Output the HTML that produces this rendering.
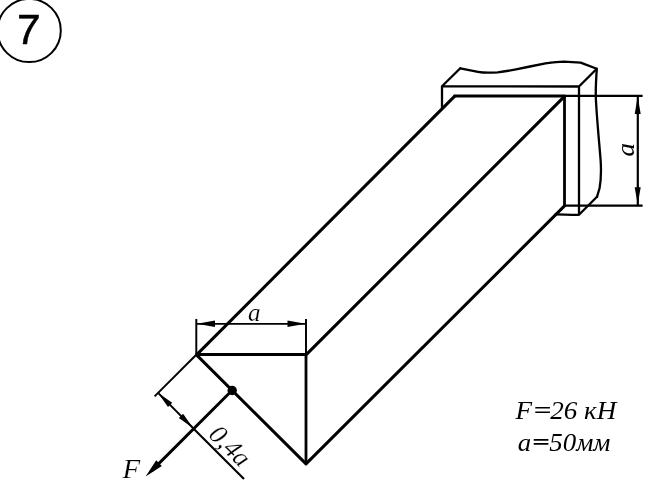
<!DOCTYPE html>
<html><head><meta charset="utf-8">
<style>
html,body{margin:0;padding:0;background:#fff;width:666px;height:492px;overflow:hidden}
svg{display:block;will-change:transform}
.s{font-family:"Liberation Sans",sans-serif}
.t{font-family:"Liberation Serif",serif;font-style:italic}
.w{stroke:#fff;stroke-width:0.2px}
</style></head>
<body>
<svg width="666" height="492" viewBox="0 0 666 492">
<rect width="666" height="492" fill="#fff"/>
<!-- circle 7 -->
<circle cx="29.2" cy="30.5" r="31.6" fill="none" stroke="#000" stroke-width="2"/>
<g transform="translate(0,15) skewX(-3.5) translate(0,-15)"><text class="s" x="17.4" y="44.1" font-size="42" stroke="#000" stroke-width="0.6">7</text></g>

<!-- wall -->
<g fill="none" stroke="#000" stroke-width="2.3" stroke-linejoin="round" stroke-linecap="round">
<path d="M442,108 L442,86.3 L579,86.5 L579,214.8 M442,86.3 L460.3,68.3 M579,86.5 L596.8,68.8 M555.5,214.3 C565,214.5 572,214.9 579,214.8 L597,196.8"/>
<path d="M460.3,68.3 L478,71.8 C482,72.6 490,72.8 497.6,72.3 C503,71.8 510,70.6 516,69.3 L530,66.5 L545.5,63.4 C552,62.4 558,61.6 564,61.6 L580.6,62.6 L596.8,68.8 C596,80 595.6,88 595.8,97 C596.5,115 599,140 600.6,160 C601.3,170 601,180 599.6,188 L597,196.8"/>
</g>

<!-- beam -->
<g fill="none" stroke="#000" stroke-width="2.8" stroke-linejoin="round" stroke-linecap="round">
<path d="M196.5,354.5 L306,354.5 L306,463.6 M454.5,96 L564.5,96 L564.5,205.5"/>
<path stroke-width="3.05" d="M196.5,354.9 L306,463.9 M196.5,354.9 L454.5,96.4 M306,354.9 L564.5,96.4 M306,463.9 L564.5,205.9"/>
<path d="M232.2,390.2 L152,470.4" stroke-width="2.9"/>
</g>

<!-- dimension lines -->
<g fill="none" stroke="#000" stroke-width="1.95" stroke-linecap="butt">
<path d="M196.3,319 L196.3,354 M306,319 L306,354"/>
<path d="M565,95.8 L642.6,95.8 M565,205.6 L642.6,205.6" stroke-width="2.3"/>
<path d="M196.5,354.5 L154.6,396.4" /><path stroke-width="2.1" d="M193.4,428.4 L244,479"/>
</g>
<g fill="none" stroke="#000" stroke-width="1.9" stroke-linecap="butt">
<path d="M197,323.85 L305,323.85"/>
<path d="M637.8,97 L637.8,205" stroke-width="2.2"/>
<path d="M158.1,392.9 L193,428"/>
</g>
<g fill="#000" stroke="none">
<!-- horizontal arrows -->
<path d="M197,323.85 L215,320.6 L215,327.1 Z"/>
<path d="M305.5,323.85 L287.5,320.6 L287.5,327.1 Z"/>
<!-- vertical arrows -->
<path d="M637.7,96.6 L634.7,114 L640.7,114 Z"/>
<path d="M637.7,204.6 L634.7,187.2 L640.7,187.2 Z"/>
<!-- 0.4a dim arrows -->
<g transform="translate(158.1,392.9) rotate(45)"><path d="M0,0 L17,-3 L17,3 Z"/></g>
<g transform="translate(193,428) rotate(225)"><path d="M0,0 L17,-3 L17,3 Z"/></g>
<!-- force arrow -->
<g transform="translate(145.6,476.5) rotate(-45)"><path d="M0,0 L19,-4 L19,4 Z"/></g>
<circle cx="232.2" cy="390.5" r="4.7"/>
</g>

<!-- labels -->
<text class="t w" x="248" y="320.6" font-size="25">a</text>
<text class="t" font-size="25" transform="translate(634.2,156.6) rotate(-90) scale(1.08,1)">a</text>
<text class="t w" font-size="26.5" transform="translate(207.6,435.7) rotate(45)">0,4a</text>
<g transform="translate(122.4,477.8) scale(1.05,1)"><text class="t w" x="0" y="0" font-size="27.5">F</text></g>
<g transform="translate(515.4,418.7) scale(1.05,1)"><text class="t" x="0" y="0" font-size="25.8">F<tspan fill="transparent">=</tspan>26 кН</text></g>
<path d="M535.3,406.9 H549.9 V408.5 H535.3 Z M535.3,411.4 H549.9 V413 H535.3 Z" fill="#000"/>
<g transform="translate(517.8,451.2) scale(1.04,1)"><text class="t" x="0" y="0" font-size="25.8">a<tspan fill="transparent">=</tspan>50мм</text></g>
<path d="M533.7,439.1 H548.4 V440.7 H533.7 Z M533.7,443.1 H548.4 V444.7 H533.7 Z" fill="#000"/>
</svg>
</body></html>
